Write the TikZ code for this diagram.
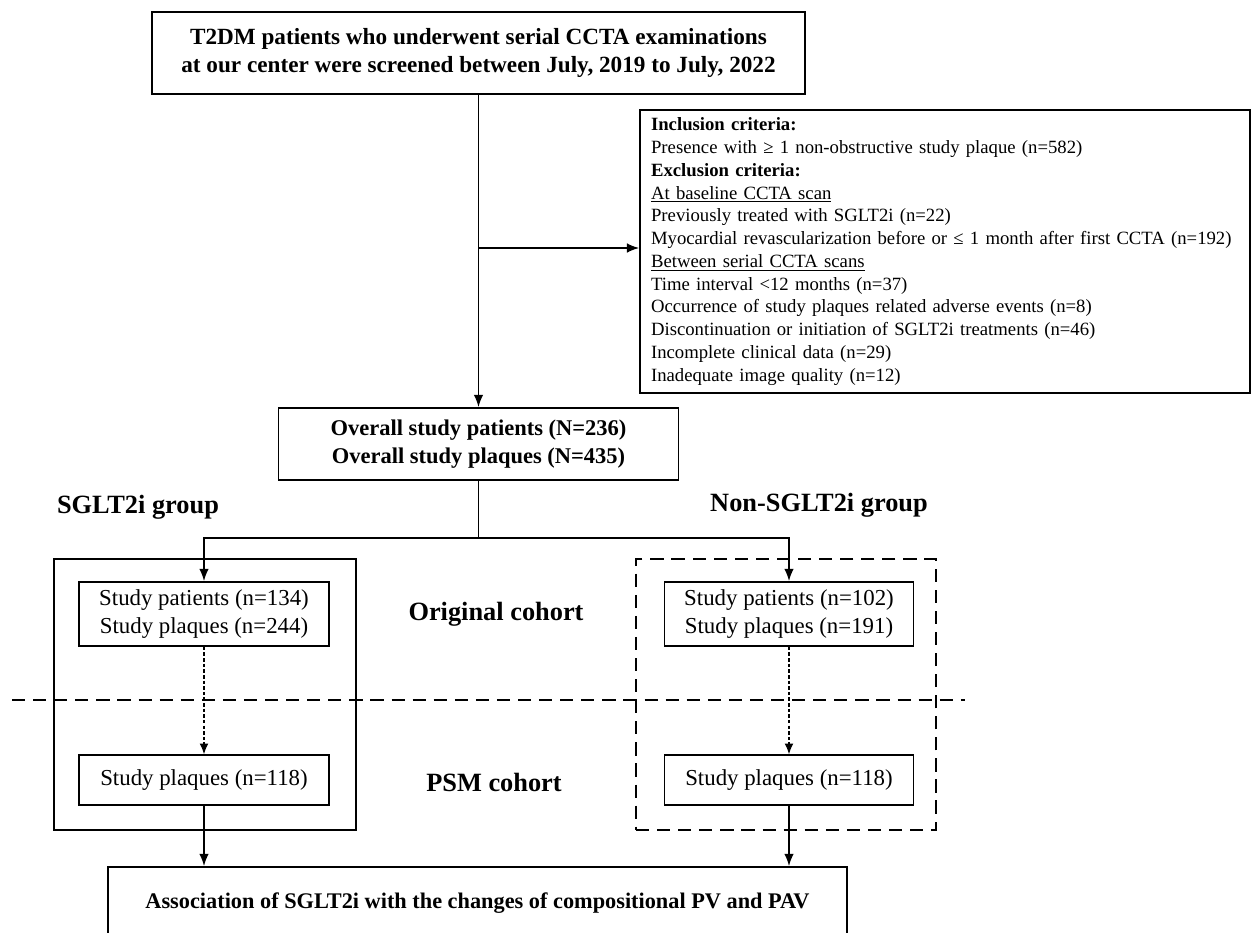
\documentclass[tikz,border=0pt]{standalone}
\usepackage{fontspec}
\setmainfont{Liberation Serif}
\usetikzlibrary{arrows.meta,positioning}

\begin{document}
\begin{tikzpicture}[
  x=0.02cm,y=-0.02cm,
  every node/.style={font=\fontsize{13}{15.5}\selectfont},
  box/.style={draw,line width=1pt,align=center,inner sep=0pt},
  hdrbox/.style={box,font=\fontsize{13.2}{15.6}\selectfont\bfseries},
  critbox/.style={draw,line width=1pt,align=left,inner xsep=0.22cm,inner ysep=0pt,
                  font=\fontsize{10.65}{12.95}\selectfont},
  grp/.style={font=\fontsize{15}{18}\selectfont\bfseries},
  outer/.style={draw,line width=1.6pt,inner sep=0pt,minimum width=#1,minimum height=5.42cm},
  conn/.style={line width=1pt,-{Latex[length=7pt,width=5.5pt]}},
  line/.style={line width=1pt},
  psm/.style={line width=0.6pt,dash pattern=on 2pt off 1.2pt,-{Latex[length=6pt,width=5pt]}},
  divider/.style={line width=1.6pt,dash pattern=on 7.5pt off 4.5pt},
]
\useasboundingbox (0,0) rectangle (1252,933);
\clip (0,0) rectangle (1252,933);

%% Screening
\node[hdrbox,minimum width=13.06cm,minimum height=1.64cm] (top) at (478.5,53)
  {T2DM patients who underwent serial CCTA examinations\\
   at our center were screened between July, 2019 to July, 2022};

%% Criteria
\node[critbox,text width=11.76cm,minimum height=5.66cm] (crit) at (945,251.5)
  {\textbf{Inclusion criteria:}\\
   Presence with ≥ 1 non-obstructive study plaque (n=582)\\
   \textbf{Exclusion criteria:}\\
   \underline{At baseline CCTA scan}\\
   Previously treated with SGLT2i (n=22)\\
   Myocardial revascularization before or ≤ 1 month after first CCTA (n=192)\\
   \underline{Between serial CCTA scans}\\
   Time interval <12 months (n=37)\\
   Occurrence of study plaques related adverse events (n=8)\\
   Discontinuation or initiation of SGLT2i treatments (n=46)\\
   Incomplete clinical data (n=29)\\
   Inadequate image quality (n=12)};

%% Overall
\node[box,minimum width=8cm,minimum height=1.44cm,
      font=\fontsize{12.8}{15.9}\selectfont\bfseries] (overall) at (478.5,444)
  {Overall study patients (N=236)\\Overall study plaques (N=435)};

%% Group labels
\node[grp] (sgltlbl) at (138,507) {SGLT2i group};
\node[grp] (nonlbl)  at (819,505) {Non-SGLT2i group};
\node[grp] (orig)    at (496,614) {Original cohort};
\node[grp] (psmlbl)  at (494,782) {PSM cohort};

%% Group frames
\node[outer=6.04cm] (sgltbox) at (205,694.5) {};
\node[outer=6cm,dashed,dash pattern=on 7.5pt off 4.5pt] (nonbox) at (786,694.5) {};

%% Cohort boxes
\node[box,minimum width=5cm,minimum height=1.28cm] (sgltA) at (204,614)
  {Study patients (n=134)\\Study plaques (n=244)};
\node[box,minimum width=5cm,minimum height=1cm] (sgltB) at (204,780)
  {Study plaques (n=118)};
\node[box,minimum width=4.98cm,minimum height=1.28cm] (nonA) at (789,614)
  {Study patients (n=102)\\Study plaques (n=191)};
\node[box,minimum width=4.98cm,minimum height=1cm] (nonB) at (789,780)
  {Study plaques (n=118)};

%% Outcome
\node[box,minimum width=14.78cm,minimum height=1.44cm,
      font=\fontsize{12.7}{15}\selectfont\bfseries] (result) at (477.5,903)
  {Association of SGLT2i with the changes of compositional PV and PAV};

%% Cohort divider
\coordinate (divL) at (12,700);
\coordinate (divR) at (965,700);
\draw[divider] (divL) -- (divR);

%% Connectors
\coordinate (split) at (478.5,538);
\draw[conn] (top.south) -- (overall.north);
\draw[conn] (top.south |- 0,248) -- (crit.west |- 0,248);
\draw[line] (overall.south) -- (split);
\draw[conn] (split) -| (sgltA.north);
\draw[conn] (split) -| (nonA.north);
\draw[psm] (sgltA.south) -- (sgltB.north);
\draw[psm] (nonA.south) -- (nonB.north);
\draw[conn] (sgltB.south) -- (sgltB.south |- result.north);
\draw[conn] (nonB.south) -- (nonB.south |- result.north);

\end{tikzpicture}
\end{document}
